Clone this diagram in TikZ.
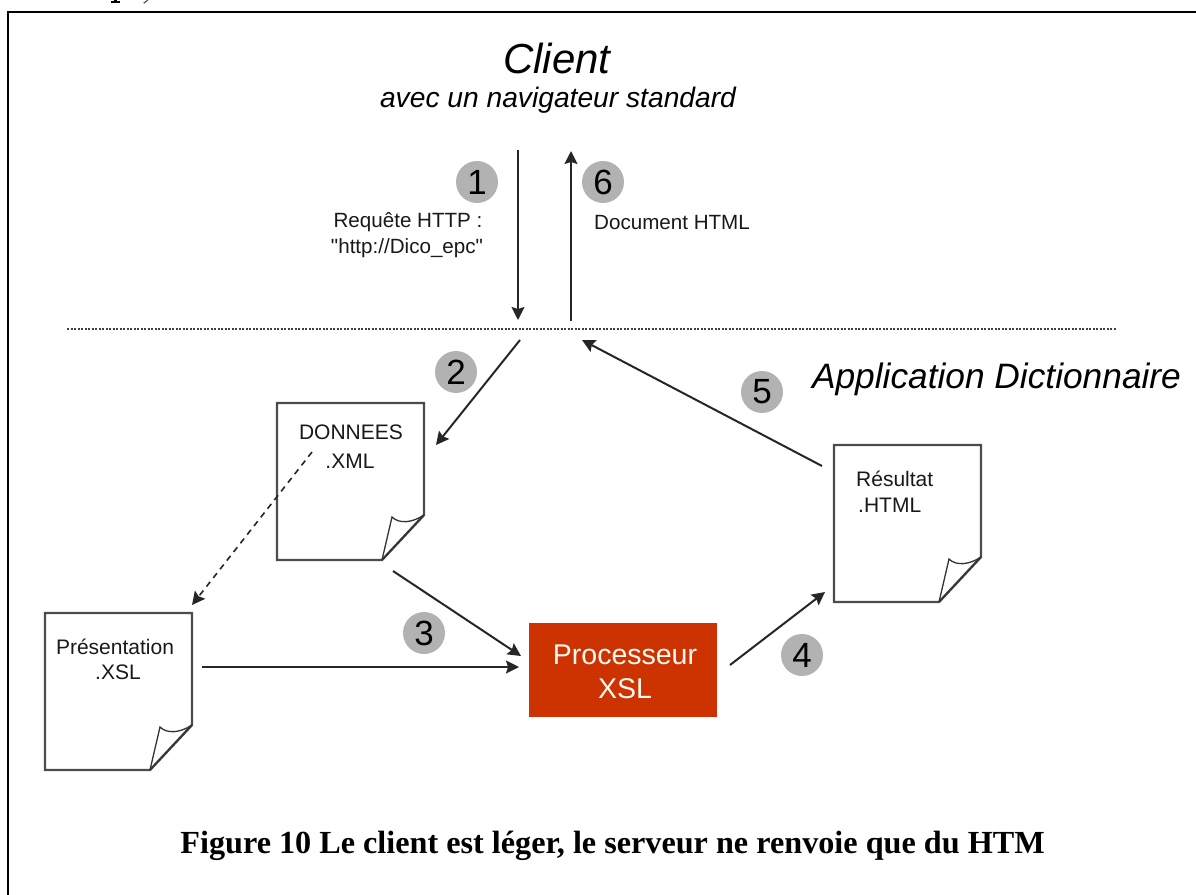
\documentclass[tikz,border=0pt]{standalone}
\usepackage{fontspec}
\setmainfont{Liberation Sans}
\newfontfamily\captionserif{Liberation Serif}
\newfontfamily\plainsans{Liberation Sans}
\usepackage{xcolor}
\usepackage{tikz}
\usetikzlibrary{calc}
\usetikzlibrary{arrows.meta}
\definecolor{procred}{HTML}{CC3300}
\definecolor{stepgray}{HTML}{B2B2B2}
\newcommand{\pxfont}[1]{\fontsize{#1}{#1}\selectfont}
\tikzset{
 flow/.style={draw=black!85, line width=2pt, -{Stealth[length=13pt,width=13pt,inset=2pt]}},
 pageline/.style={draw=black!70, line width=2.4pt, line join=miter, fill=white},
 foldline/.style={draw=black!80, line width=1.3pt},
 stepdot/.style={circle, fill=stepgray, minimum size=42pt, inner sep=0, font=\pxfont{35}},
 doctext/.style={inner sep=0, font=\pxfont{21}, text=black!90},
 arrowtext/.style={inner sep=0, font=\pxfont{20.6}, text=black!90},
}

\begin{document}
\begin{tikzpicture}[x=1pt,y=-1pt]
\useasboundingbox (0,0) rectangle (1196,894);
\fill[white] (0,0) rectangle (1196,894);
\begin{scope}
\clip (0,0) rectangle (1196,894);
\draw[black, line width=2pt] (8,896) -- (8,12) -- (1198,12);
\end{scope}
\fill[black] (111,1) rectangle (120,2.5);
\fill[black] (114,0) rectangle (117,1);
\fill[black!70] (143,3) -- (147,0) -- (148.5,0) -- (144.5,3.5) -- cycle;
% titles
\node[inner sep=0, font=\pxfont{42}\itshape] (client) at (557,58) {Client};
\node[inner sep=0, font=\pxfont{28.2}\itshape] (navigateur) at (558,100) {avec un navigateur standard};
\node[inner sep=0, font=\pxfont{35.3}\itshape] (appli) at (996.5,379) {Application Dictionnaire};
% separator
\coordinate (sepleft) at (67,329);
\coordinate (sepright) at (1117,329);
\draw[black!75, line width=2pt, dash pattern=on 2pt off 1.5pt] (sepleft) -- (sepright);
% documents
\foreach \x/\y in {277/403, 45/613, 834/445} {
 \draw[pageline] (\x,\y) --++(147,0) --++(0,112) --++(-42,45) --++(-105,0) -- cycle;
 \draw[foldline] (\x+105,\y+157) -- (\x+115,\y+114) .. controls (\x+122,\y+121) and (\x+135,\y+120) .. (\x+147,\y+112);
 \draw[foldline] (\x+105,\y+157) -- (\x+147,\y+112);
}
\node[doctext] (donnees) at (351,432) {DONNEES};
\node[doctext] (donneesext) at (350,461) {.XML};
\node[doctext] (presentation) at (115,647) {Présentation};
\node[doctext] (presentationext) at (118,672) {.XSL};
\node[doctext, anchor=west] (resultat) at (856,479) {Résultat};
\node[doctext, anchor=west] (resultatext) at (858,505) {.HTML};
% processor
\node[fill=procred, minimum width=188pt, minimum height=94pt, inner sep=0] (proc) at (623,670) {};
\node[inner sep=0, text=white!95!orange, font=\pxfont{28.5}] (procname) at (625,655) {Processeur};
\node[inner sep=0, text=white!95!orange, font=\pxfont{28.5}] (procext) at (625,689) {XSL};
% end points of the arrows
\coordinate (ua) at (518,150);
\coordinate (ub) at (518,320);
\coordinate (va) at (571,321);
\coordinate (vb) at (571,151);
\coordinate (wa) at (520,340);
\coordinate (wb) at (436,445);
\coordinate (da) at (312,452);
\coordinate (db) at (192,605);
\coordinate (pa) at (393,571);
\coordinate (pb) at (521,656);
\coordinate (qa) at (202,667);
\coordinate (qb) at (519,667);
\coordinate (ra) at (730,665);
\coordinate (rb) at (825,592);
\coordinate (sa) at (822,466);
\coordinate (sb) at (582,340);
\draw[flow] (ua) -- (ub);
\draw[flow] (va) -- (vb);
\draw[flow] (wa) -- (wb);
\draw[flow, line width=1.6pt, dash pattern=on 6pt off 5pt] (da) -- (db);
\draw[flow] (pa) -- (pb);
\draw[flow] (qa) -- (qb);
\draw[flow] (ra) -- (rb);
\draw[flow] (sa) -- (sb);
% steps
\foreach \n/\x/\y in {1/477/182, 2/456/372, 3/424/633, 4/802/655, 5/762/392, 6/603/182} {
 \node[stepdot] (step\n) at (\x,\y) {\n};
}
% labels
\node[arrowtext] (requete) at (408,222) {Requête HTTP :};
\node[arrowtext] (url) at (407,248) {\plainsans "http://Dico\_epc"};
\node[arrowtext, anchor=west] (reponse) at (594,223) {Document HTML};
\node[inner sep=0, font=\captionserif\bfseries\pxfont{32.2}] (legende) at (612.5,846) {Figure 10 Le client est léger, le serveur ne renvoie que du HTM};
\end{tikzpicture}
\end{document}
